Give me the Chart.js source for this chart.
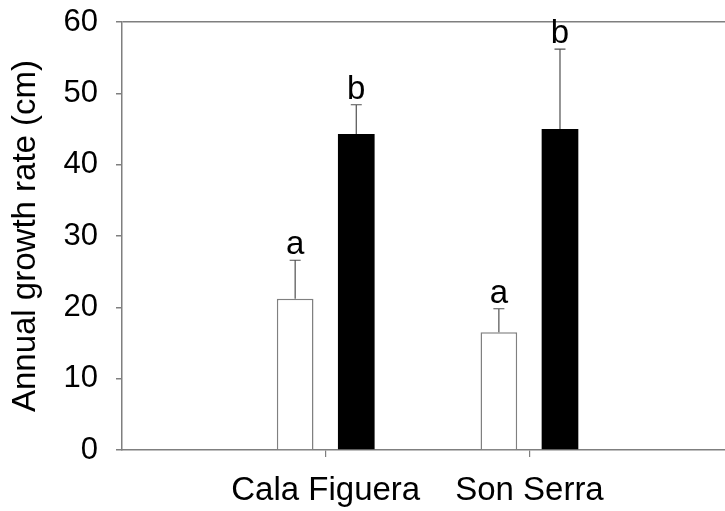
<!DOCTYPE html>
<html>
<head>
<meta charset="utf-8">
<script src="https://cdn.jsdelivr.net/npm/chart.js@4"></script>
<style>
  html, body { margin: 0; padding: 0; background: #fff; overflow: hidden; }
  #wrap { width: 725px; height: 511px; }
</style>
</head>
<body>
<div id="wrap"><canvas id="growthChart" width="725" height="511"></canvas></div>
<script>
// datos
const categories = ['Cala Figuera', 'Son Serra'];
const categoryPos = [1, 2];
const yTicks = [0, 10, 20, 30, 40, 50, 60];

const whiteValues = [21.2, 16.5];
const whiteErrors = [5.4, 3.3];
const whiteLetters = ['a', 'a'];

const blackValues = [44.3, 45.0];
const blackErrors = [4.1, 11.2];
const blackLetters = ['b', 'b'];

const FONT = '"Liberation Sans", Arial, sans-serif';
const AXIS = '#7f7f7f';

const toPoints = vals => vals.map((v, i) => ({ x: categoryPos[i], y: v }));

// barras de error hacia arriba + letras
const errorBars = {
  id: 'errorBars',
  afterDatasetsDraw(chart) {
    const { ctx, scales: { y } } = chart;
    ctx.save();
    chart.data.datasets.forEach((ds, di) => {
      const meta = chart.getDatasetMeta(di);
      meta.data.forEach((bar, i) => {
        const top = y.getPixelForValue(ds.data[i].y + ds.errors[i]);
        ctx.strokeStyle = '#505050';
        ctx.lineWidth = 1.2;
        ctx.beginPath();
        ctx.moveTo(bar.x, bar.y);
        ctx.lineTo(bar.x, top);
        ctx.moveTo(bar.x - 5.5, top);
        ctx.lineTo(bar.x + 5.5, top);
        ctx.stroke();

        ctx.fillStyle = '#000';
        ctx.font = '33px ' + FONT;
        ctx.textAlign = 'center';
        ctx.textBaseline = 'alphabetic';
        ctx.fillText(ds.letters[i], bar.x, top - 6);
      });
    });
    ctx.restore();
  }
};

new Chart(document.getElementById('growthChart'), {
  type: 'bar',
  data: {
    datasets: [{
      data: toPoints(whiteValues),
      errors: whiteErrors,
      letters: whiteLetters,
      backgroundColor: '#ffffff',
      borderColor: '#808080',
      borderWidth: 1.5,
      categoryPercentage: 0.6,
      barPercentage: 0.6
    }, {
      data: toPoints(blackValues),
      errors: blackErrors,
      letters: blackLetters,
      backgroundColor: '#000000',
      borderWidth: 0,
      categoryPercentage: 0.6,
      barPercentage: 0.6
    }]
  },
  options: {
    responsive: false,
    animation: false,
    layout: { padding: 0 },
    plugins: { legend: { display: false }, tooltip: { enabled: false } },
    scales: {
      x: {
        type: 'linear',
        offset: false,
        min: 0,
        max: 2.96,
        afterBuildTicks: s => { s.ticks = categoryPos.map(v => ({ value: v })); },
        afterFit: s => { s.height = 61; s.paddingLeft = 0; s.paddingRight = 0; },
        grid: { offset: false, drawOnChartArea: false, tickLength: 7, tickColor: AXIS, lineWidth: 1.2 },
        border: { display: true, color: AXIS, width: 1.5 },
        ticks: {
          padding: 14,
          color: '#000',
          font: { family: FONT, size: 33 },
          callback: v => categories[categoryPos.indexOf(v)] || ''
        }
      },
      y: {
        min: 0,
        max: 60,
        afterBuildTicks: s => { s.ticks = yTicks.map(v => ({ value: v })); },
        afterFit: s => { s.width = 122; s.paddingTop = 22; s.paddingBottom = 0; },
        grid: {
          color: c => (c.tick && c.tick.value === 60) ? AXIS : 'rgba(0,0,0,0)',
          tickColor: AXIS,
          tickLength: 6,
          lineWidth: 1.5
        },
        border: { display: true, color: AXIS, width: 1.5 },
        ticks: {
          padding: 18,
          color: '#000',
          font: { family: FONT, size: 31 }
        },
        title: {
          display: true,
          text: 'Annual growth rate (cm)',
          color: '#000',
          font: { family: FONT, size: 33 },
          padding: { top: 6, bottom: 0 }
        }
      }
    }
  },
  plugins: [errorBars]
});
</script>
</body>
</html>
